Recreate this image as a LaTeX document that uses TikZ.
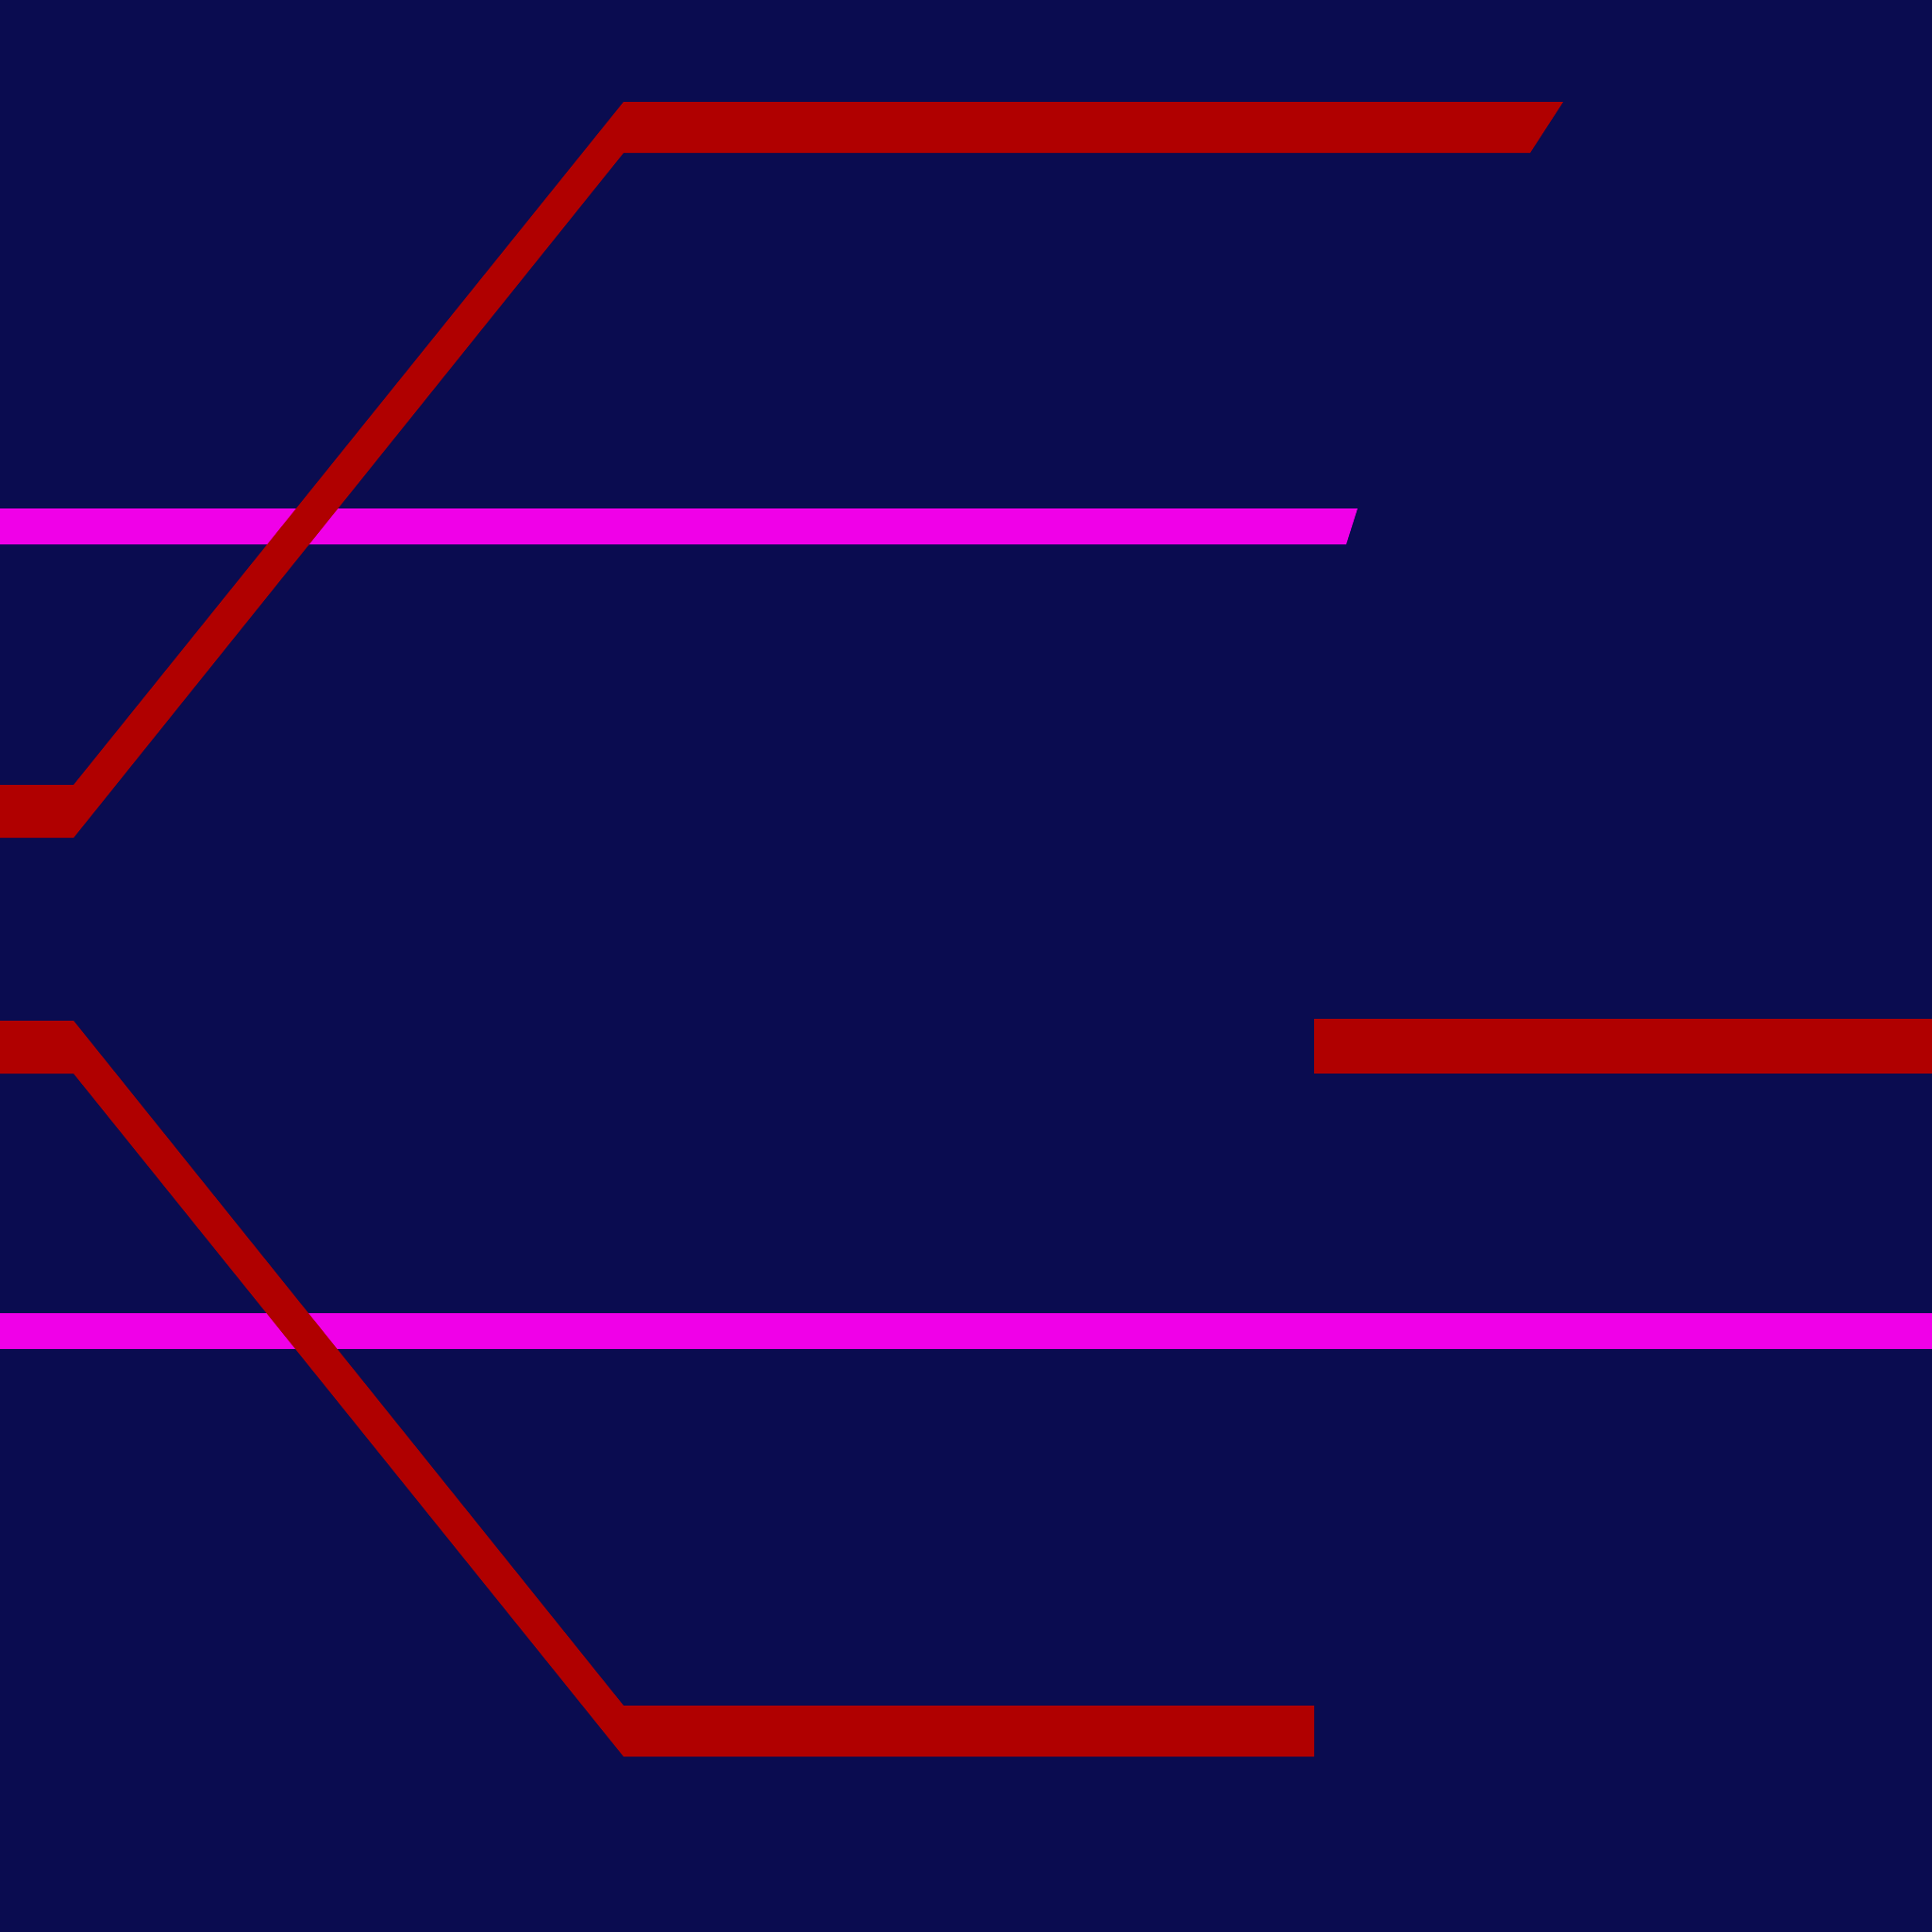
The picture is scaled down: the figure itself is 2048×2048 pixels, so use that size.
\documentclass[tikz,border=0pt]{standalone}
\definecolor{night}{RGB}{10,12,80}
\definecolor{rail}{RGB}{176,0,0}
\definecolor{wire}{RGB}{240,0,232}
\begin{document}
\begin{tikzpicture}
[x=0.01cm,y=-0.01cm,redband/.style={fill=rail},pinkband/.style={fill=wire}]
\fill[night] (0,0) rectangle (2048,2048);
\useasboundingbox (0,0) rectangle (2048,2048);
%\draw [pinkband] (0,558) -- (1433,558);
\fill [pinkband] (0,539) -- (1439,539) -- (1427,577) -- (0,577) -- cycle;
\fill [pinkband] (0,1392) -- (2048,1392) -- (2048,1430) -- (0,1430) -- cycle;
\fill [redband] (0,832) -- (78,832) -- (661,108) -- (1657,108) -- (1622,162) -- (661,162) -- (78,888) -- (0,888) -- cycle;
\fill [redband] (0,1082) -- (78,1082) -- (661,1808) -- (1393,1808) -- (1393,1862) -- (661,1862) -- (78,1138) -- (0,1138) -- cycle;
\fill [redband] (1393,1080) rectangle (2048,1138);
\end{tikzpicture}
\end{document}
